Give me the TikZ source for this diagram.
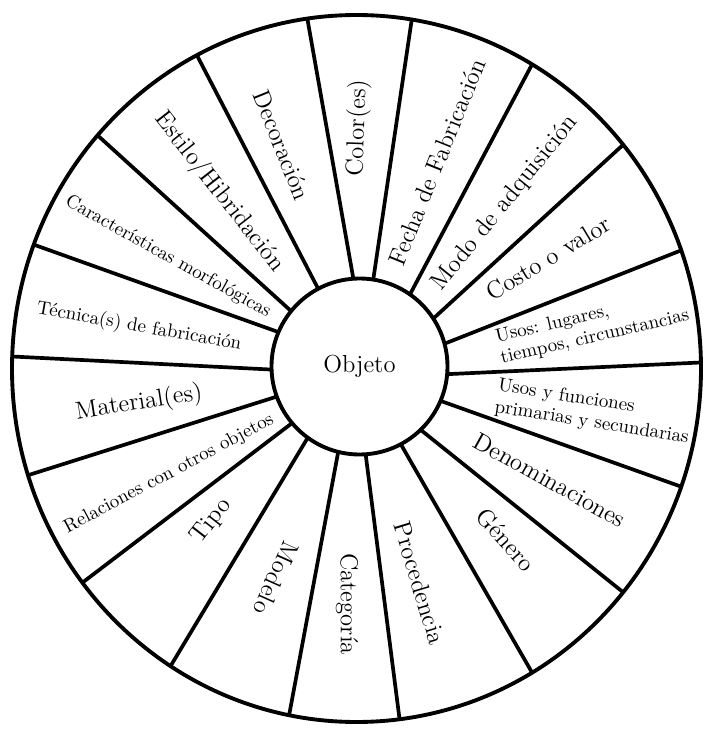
\documentclass[tikz,border=0pt]{standalone}
\usetikzlibrary{shapes.geometric}
\tikzset{
  spoke/.style={line width=2.1pt},
  segtext/.style={font=\fontsize{14}{16}\selectfont, inner sep=1pt},
  segsmall/.style={font=\fontsize{10.8}{12.5}\selectfont, inner sep=1pt, align=left},
}
\begin{document}
\begin{tikzpicture}
\useasboundingbox (-7.13,-7.21) rectangle (6.99,7.37);
\node[draw, ellipse, line width=2.2pt, minimum width=13.78cm, minimum height=14.14cm, inner sep=0pt, outer sep=0pt] (rim) at (0,0) {};
\node[draw, circle, line width=2.2pt, minimum size=3.52cm, inner sep=0pt, outer sep=0pt, segtext] (obj) at (0.06,0.04) {Objeto};
\foreach \i/\o in {94.8/98.7, 81.4/81.3, 55.0/60.2, 33.2/40.6, 15.8/20.8, 355.2/1.4, 337.1/340.1, 314.2/320.7, 298.3/300.0, 274.4/277.9, 256.9/259.6, 234.9/238.8, 220.3/218.0, 200.0/198.0, 182.9/178.6, 157.9/159.4, 141.9/138.2, 118.1/117.5}
  \draw[spoke] (obj.\i) -- (rim.\o);
\node[segtext, rotate=88] (color) at (0.03,4.81) {Color(es)};
\node[segtext, rotate=68] (fecha) at (1.61,4.13) {Fecha de Fabricación};
\node[segtext, rotate=51] (modo) at (2.97,3.31) {Modo de adquisición};
\node[segtext, rotate=31] (costo) at (3.83,2.21) {Costo o valor};
\node[segsmall, rotate=13] (lugares) at (4.72,0.84) {Usos: lugares,\\tiempos, circunstancias};
\node[segsmall, rotate=-9] (funciones) at (4.74,-0.87) {Usos y funciones\\primarias y secundarias};
\node[segtext, rotate=-29] (denom) at (3.87,-2.23) {Denominaciones};
\node[segtext, rotate=-48] (genero) at (2.99,-3.43) {Género};
\node[segtext, rotate=-73] (proced) at (1.27,-4.29) {Procedencia};
\node[segtext, rotate=-90] (categ) at (-0.19,-4.71) {Categoría};
\node[segtext, rotate=-114] (modelo) at (-1.61,-4.19) {Modelo};
\node[segtext, rotate=52] (tipo) at (-2.9,-3.06) {Tipo};
\node[segsmall, rotate=28] (relac) at (-3.75,-2.11) {Relaciones con otros objetos};
\node[segtext, rotate=9] (material) at (-4.35,-0.69) {Material(es)};
\node[segsmall, rotate=-10] (tecnica) at (-4.35,0.83) {Técnica(s) de fabricación};
\node[segsmall, rotate=-29] (caract) at (-3.77,2.23) {Características morfológicas};
\node[segtext, rotate=-52] (estilo) at (-2.75,3.53) {Estilo/Hibridación};
\node[segtext, rotate=-68] (decor) at (-1.49,4.47) {Decoración};
\end{tikzpicture}
\end{document}
